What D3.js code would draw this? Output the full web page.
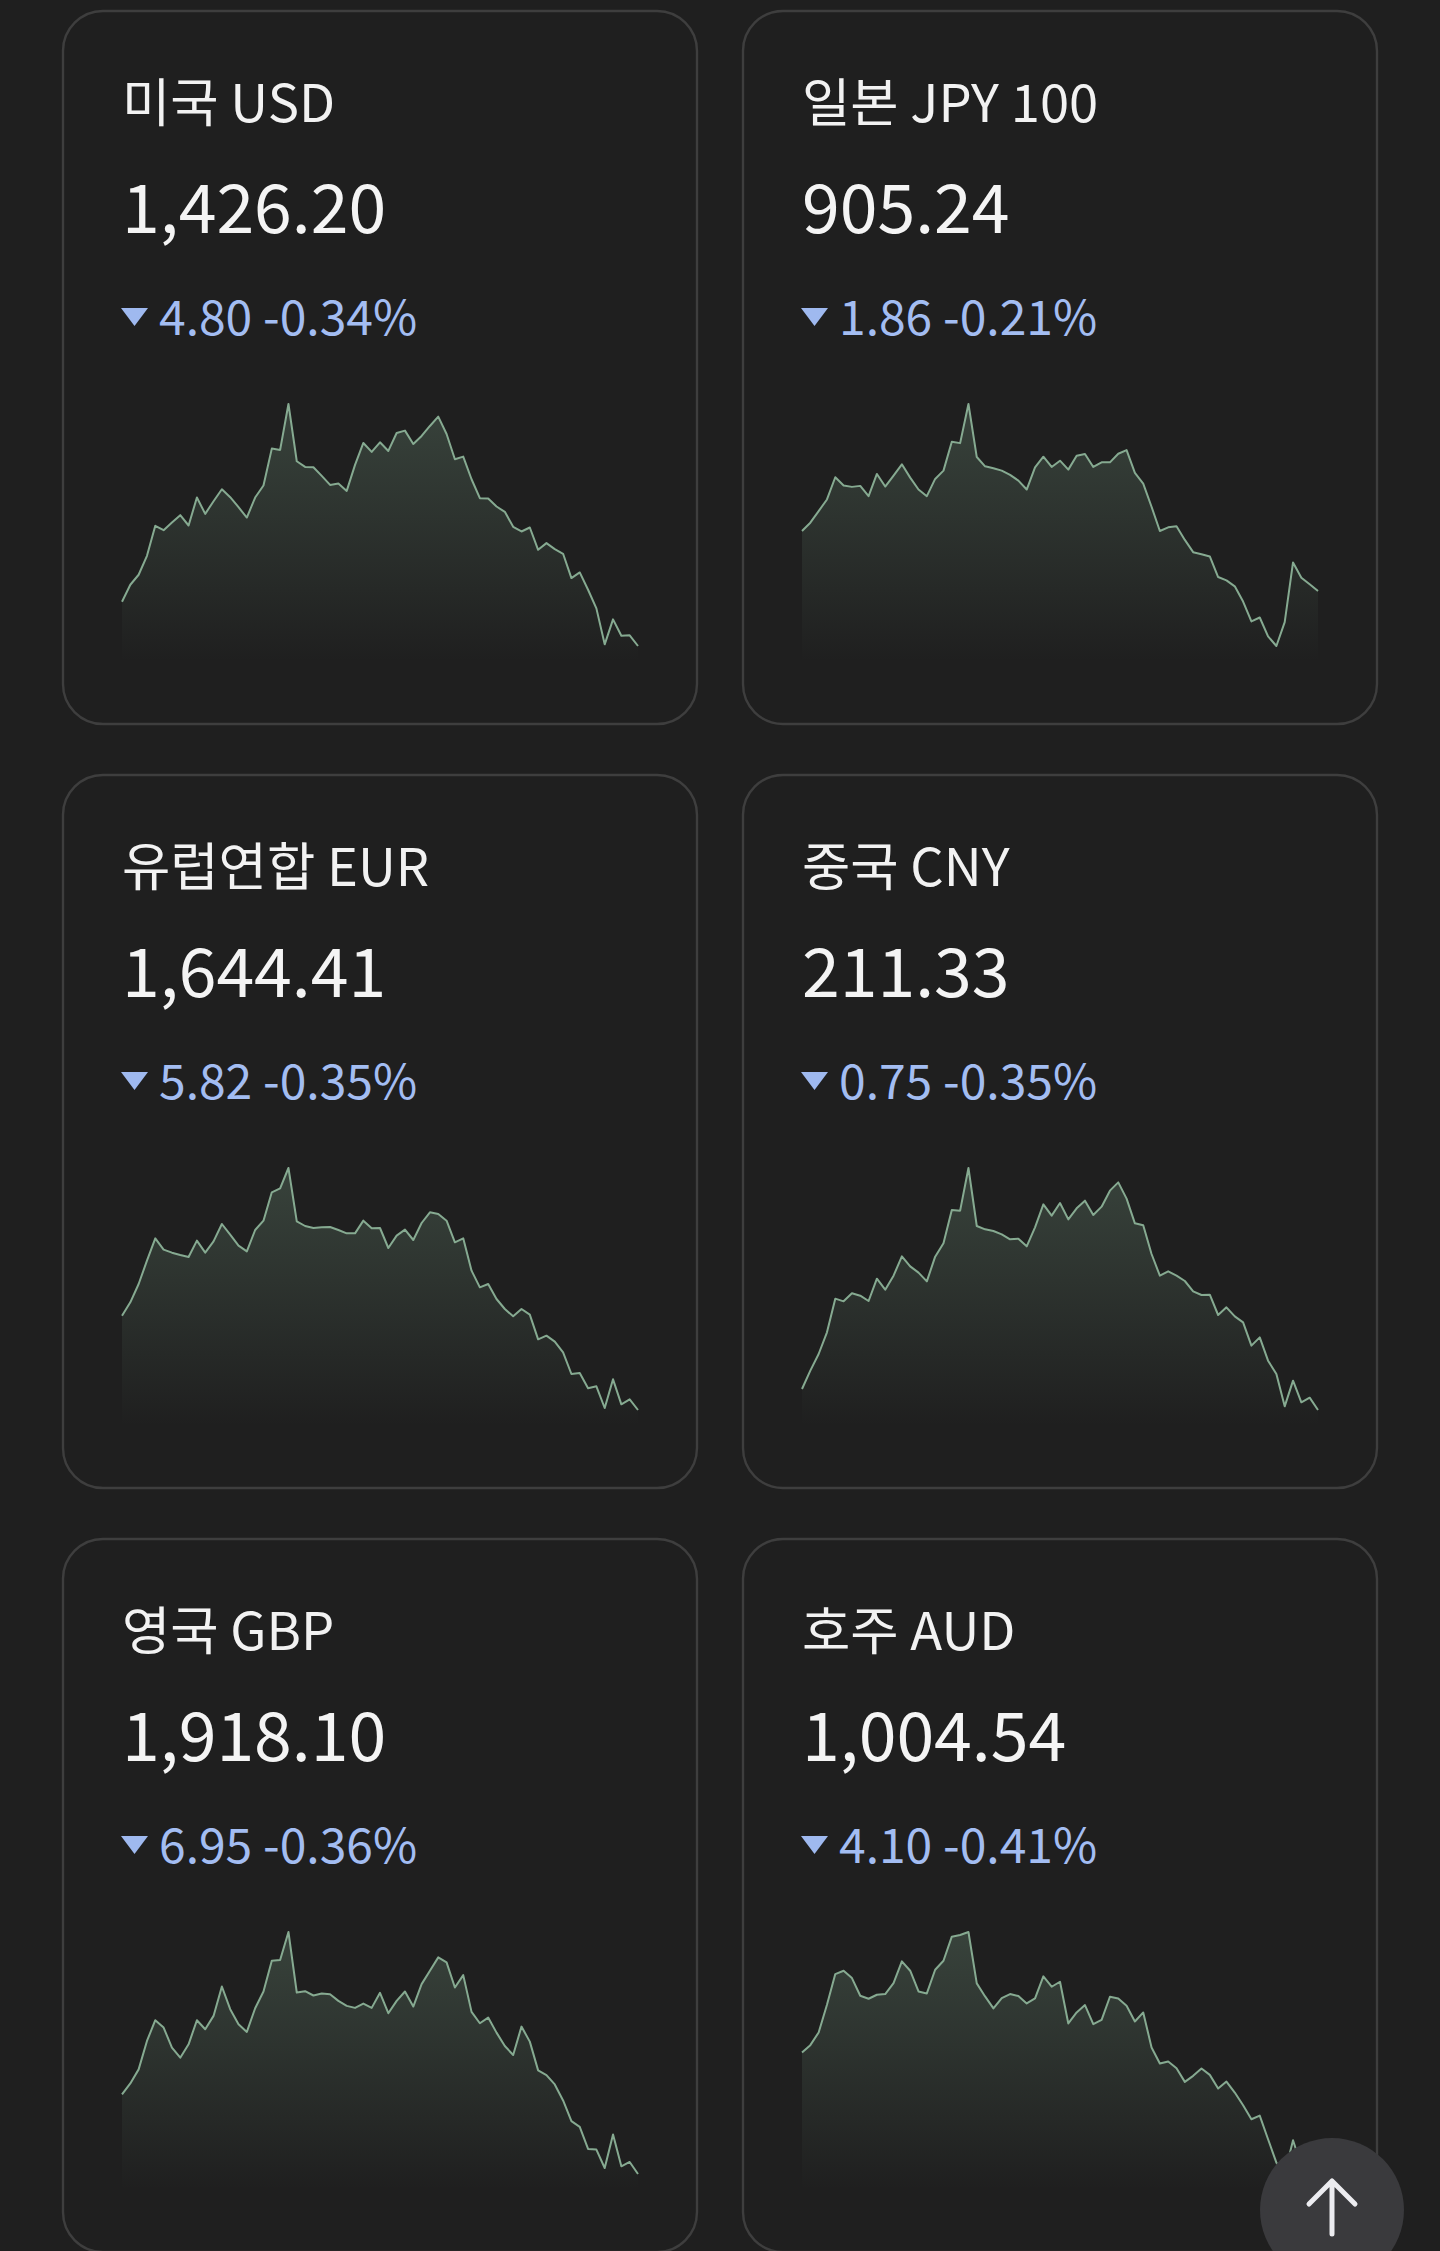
<!DOCTYPE html>
<html>
<head>
<meta charset="utf-8">
<script src="https://cdn.jsdelivr.net/npm/d3@7"></script>
<style>
  html, body { margin: 0; padding: 0; background: #1f1f1f; }
  svg { display: block; }
</style>
</head>
<body>
<svg id="board" width="1440" height="2251"></svg>
<script>
// card texts
var names = ["미국 USD", "일본 JPY 100", "유럽연합 EUR", "중국 CNY", "영국 GBP", "호주 AUD"];
var prices = ["1,426.20", "905.24", "1,644.41", "211.33", "1,918.10", "1,004.54"];
var changes = ["4.80", "1.86", "5.82", "0.75", "6.95", "4.10"];
var percents = ["-0.34%", "-0.21%", "-0.35%", "-0.35%", "-0.36%", "-0.41%"];

// sparkline levels (relative units)
var usd = [204,255,285,342,432,419,442,464,433,517,468,506,542,518,488,457,517,553,664,660,798,626,609,608,582,555,559,537,615,681,654,683,657,711,718,678,702,732,760,708,632,640,572,515,514,490,474,429,415,427,360,380,362,348,275,292,240,184,76,151,102,103,71];
var jpy = [415,440,475,510,577,552,548,551,520,587,549,582,616,576,540,520,572,597,684,680,798,638,610,604,597,584,567,540,607,639,608,627,600,642,647,608,622,622,648,659,590,558,488,415,426,429,388,351,345,338,276,266,248,202,142,154,97,68,140,320,274,254,234];
var eur = [355,395,450,520,587,553,544,537,531,580,544,578,630,598,565,548,612,640,725,737,798,638,624,618,620,621,612,602,602,640,617,618,558,595,613,582,633,665,660,640,575,587,490,440,450,405,375,353,375,358,284,295,277,245,180,183,137,143,78,164,89,104,72];
var cny = [135,190,240,305,406,398,422,415,399,466,433,475,533,503,484,458,532,572,672,670,798,624,614,609,599,584,586,563,620,689,655,693,644,677,700,657,682,730,755,706,632,626,540,475,488,475,459,428,417,418,357,380,353,335,265,290,220,180,83,160,95,109,72];
var gbp = [310,343,385,470,532,510,450,420,460,532,505,545,633,565,520,497,568,618,710,712,796,615,619,606,612,610,590,575,569,582,569,614,553,590,618,573,640,680,720,705,630,667,557,523,540,495,455,428,513,468,382,368,340,292,230,213,147,145,90,190,95,108,72];
var aud = [435,457,495,578,670,680,658,605,596,608,610,643,708,680,618,612,683,710,782,787,796,642,603,567,598,610,604,582,597,663,632,647,522,555,577,520,533,602,597,575,528,555,450,402,408,388,347,365,387,368,327,348,315,277,235,246,175,105,71,172,95,105,80];

var series = [usd, jpy, eur, cny, gbp, aud];

var svg = d3.select("#board");
var font = "'Noto Sans CJK KR', 'Noto Sans', sans-serif";

// card grid
var cardW = 636, cardH = 715;
var colX = [62, 742];
var rowPitch = 764, firstTop = 10;

// shared fill under the lines
var defs = svg.append("defs");
var grad = defs.append("linearGradient")
    .attr("id", "spark-fill")
    .attr("x1", 0).attr("y1", 0)
    .attr("x2", 0).attr("y2", 1);
grad.append("stop").attr("offset", "0%").attr("stop-color", "#7fa88c").attr("stop-opacity", 0.26);
grad.append("stop").attr("offset", "100%").attr("stop-color", "#7fa88c").attr("stop-opacity", 0);

for (var i = 0; i < names.length; i++) {
    drawCard(i);
}

drawTopButton();

function drawCard(i) {
    var left = colX[i % 2];
    var top = firstTop + Math.floor(i / 2) * rowPitch;

    var g = svg.append("g").attr("transform", "translate(" + left + "," + top + ")");

    g.append("rect")
        .attr("x", 1).attr("y", 1)
        .attr("width", cardW - 2).attr("height", cardH - 2)
        .attr("rx", 40).attr("ry", 40)
        .attr("fill", "#1f1f1f")
        .attr("stroke", "#3e3e3e")
        .attr("stroke-width", 2.4);

    // title
    g.append("text")
        .attr("x", 60).attr("y", 112)
        .attr("fill", "#f2f2f2")
        .style("font-family", font)
        .style("font-size", "52.5px")
        .text(names[i]);

    // price
    g.append("text")
        .attr("x", 60).attr("y", 223)
        .attr("fill", "#f4f4f4")
        .style("font-family", font)
        .style("font-size", "68px")
        .text(prices[i]);

    // change line with down marker
    g.append("path")
        .attr("d", "M59,298 L86,298 L72.5,316 Z")
        .attr("fill", "#9fb9ef");

    g.append("text")
        .attr("x", 97).attr("y", 325)
        .attr("fill", "#a3bdf2")
        .style("font-family", font)
        .style("font-size", "48px")
        .text(changes[i] + " " + percents[i]);

    // sparkline
    var data = series[i];
    var x = d3.scaleLinear().domain([0, data.length - 1]).range([60, 576]);
    var y = d3.scaleLinear().domain(d3.extent(data)).range([636, 394]);

    var area = d3.area()
        .x(function(d, k) { return x(k); })
        .y0(652)
        .y1(function(d) { return y(d); });

    var line = d3.line()
        .x(function(d, k) { return x(k); })
        .y(function(d) { return y(d); });

    g.append("path")
        .datum(data)
        .attr("d", area)
        .attr("fill", "url(#spark-fill)");

    g.append("path")
        .datum(data)
        .attr("d", line)
        .attr("fill", "none")
        .attr("stroke", "#86aa91")
        .attr("stroke-width", 2)
        .attr("stroke-linejoin", "round");
}

function drawTopButton() {
    var cx = 1332, cy = 2210;
    var b = svg.append("g");

    b.append("circle")
        .attr("cx", cx).attr("cy", cy).attr("r", 72)
        .attr("fill", "#3a3a3d");

    b.append("path")
        .attr("d", "M" + cx + "," + (cy + 24) + " L" + cx + "," + (cy - 29) +
                   " M" + (cx - 23) + "," + (cy - 6) + " L" + cx + "," + (cy - 29) + " L" + (cx + 23) + "," + (cy - 6))
        .attr("fill", "none")
        .attr("stroke", "#ececf0")
        .attr("stroke-width", 5)
        .attr("stroke-linecap", "round")
        .attr("stroke-linejoin", "round");
}
</script>
</body>
</html>
